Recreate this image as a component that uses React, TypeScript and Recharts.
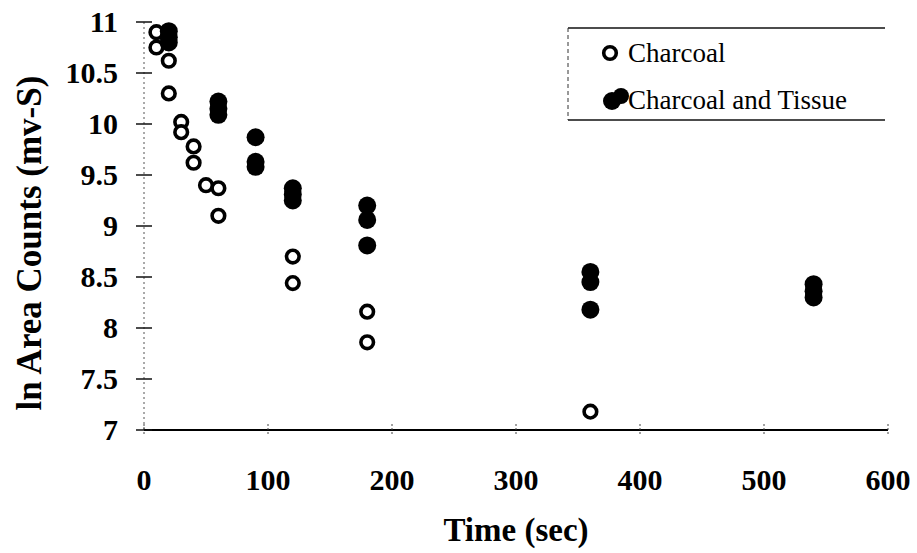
import { Legend, Scatter, ScatterChart, XAxis, YAxis } from "recharts";

const charcoalTime = [10, 10, 20, 20, 30, 30, 40, 40, 50, 60, 60, 120, 120, 180, 180, 360];
const charcoalLnArea = [10.9, 10.75, 10.62, 10.3, 10.02, 9.92, 9.78, 9.62, 9.4, 9.37, 9.1, 8.7, 8.44, 8.16, 7.86, 7.18];

const tissueTime = [20, 20, 20, 60, 60, 60, 90, 90, 90, 120, 120, 120, 180, 180, 180, 360, 360, 360, 540, 540, 540];
const tissueLnArea = [
  10.91, 10.85, 10.8, 10.22, 10.15, 10.09, 9.87, 9.63, 9.58, 9.37, 9.31, 9.25, 9.2, 9.06, 8.81, 8.55, 8.45, 8.18,
  8.43, 8.36, 8.3,
];

const xTicks = [0, 100, 200, 300, 400, 500, 600];
const yTicks = [7, 7.5, 8, 8.5, 9, 9.5, 10, 10.5, 11];

const FONT = '"Liberation Serif", "Times New Roman", serif';

const charcoal = charcoalTime.map((t, i) => ({ t, v: charcoalLnArea[i] }));
const tissue = tissueTime.map((t, i) => ({ t, v: tissueLnArea[i] }));

const OpenDot = (p: any) => <circle cx={p.cx} cy={p.cy} r={6.3} fill="#fff" stroke="#000" strokeWidth={3.6} />;
const FilledDot = (p: any) => <circle cx={p.cx} cy={p.cy} r={9} fill="#000" />;

function YTick({ x, y, payload }: any) {
  return (
    <g>
      <line x1={x - 8} x2={x + 8} y1={y} y2={y} stroke="#111" strokeWidth={1.5} />
      <text x={x - 26} y={y + 10} textAnchor="end" fontFamily={FONT} fontWeight="bold" fontSize={30} fill="#000">
        {payload.value}
      </text>
    </g>
  );
}

function XTick({ x, y, payload }: any) {
  return (
    <g>
      <line x1={x} x2={x} y1={y - 6} y2={y + 6} stroke="#444" strokeWidth={1} strokeDasharray="2 2" />
      <text x={x} y={y + 60} textAnchor="middle" fontFamily={FONT} fontWeight="bold" fontSize={30} fill="#000">
        {payload.value}
      </text>
    </g>
  );
}

function LegendBox() {
  return (
    <svg width={320} height={95} style={{ display: "block" }}>
      <line x1={1} x2={318} y1={1} y2={1} stroke="#111" strokeWidth={1.5} />
      <line x1={1} x2={318} y1={93} y2={93} stroke="#111" strokeWidth={1.5} />
      <line x1={1} x2={1} y1={1} y2={93} stroke="#333" strokeWidth={1} strokeDasharray="4 3" />
      <circle cx={43} cy={26} r={6.3} fill="#fff" stroke="#000" strokeWidth={3.6} />
      <text x={61} y={35} fontFamily={FONT} fontSize={27} fill="#000">
        Charcoal
      </text>
      <circle cx={45} cy={74} r={9} fill="#000" />
      <circle cx={54} cy={69} r={8} fill="#000" />
      <text x={61} y={82} fontFamily={FONT} fontSize={27} fill="#000">
        Charcoal and Tissue
      </text>
    </svg>
  );
}

export default function App() {
  return (
    <div style={{ position: "absolute", left: 0, top: 0, width: 917, height: 553, background: "#fff" }}>
      <ScatterChart width={917} height={553} margin={{ top: 22, right: 29, bottom: 0, left: 0 }}>
        <XAxis
          type="number"
          dataKey="t"
          domain={[0, 600]}
          ticks={xTicks}
          height={123}
          tickSize={0}
          tickMargin={0}
          tickLine={false}
          tick={<XTick />}
          axisLine={{ stroke: "#000", strokeWidth: 2 }}
          label={{
            content: ({ viewBox }: any) => (
              <text
                x={viewBox.x + viewBox.width / 2}
                y={viewBox.y + 111}
                textAnchor="middle"
                fontFamily={FONT}
                fontWeight="bold"
                fontSize={33}
                fill="#000"
              >
                Time (sec)
              </text>
            ),
          }}
        />
        <YAxis
          type="number"
          dataKey="v"
          domain={[7, 11]}
          ticks={yTicks}
          width={144}
          tickSize={0}
          tickMargin={0}
          tickLine={false}
          tick={<YTick />}
          axisLine={{ stroke: "#555", strokeWidth: 1, strokeDasharray: "2 3" }}
          label={{
            content: () => (
              <text
                x={29}
                y={243}
                transform="rotate(-90 29 243)"
                textAnchor="middle"
                dominantBaseline="central"
                fontFamily={FONT}
                fontWeight="bold"
                fontSize={35}
                fill="#000"
              >
                ln Area Counts (mv-S)
              </text>
            ),
          }}
        />
        <Legend
          layout="horizontal"
          align="center"
          verticalAlign="middle"
          content={() => <LegendBox />}
          wrapperStyle={{ left: 567, top: 27, width: 320, height: 95 }}
        />
        <Scatter name="Charcoal" data={charcoal} shape={OpenDot} isAnimationActive={false} />
        <Scatter name="Charcoal and Tissue" data={tissue} shape={FilledDot} isAnimationActive={false} />
      </ScatterChart>
    </div>
  );
}
